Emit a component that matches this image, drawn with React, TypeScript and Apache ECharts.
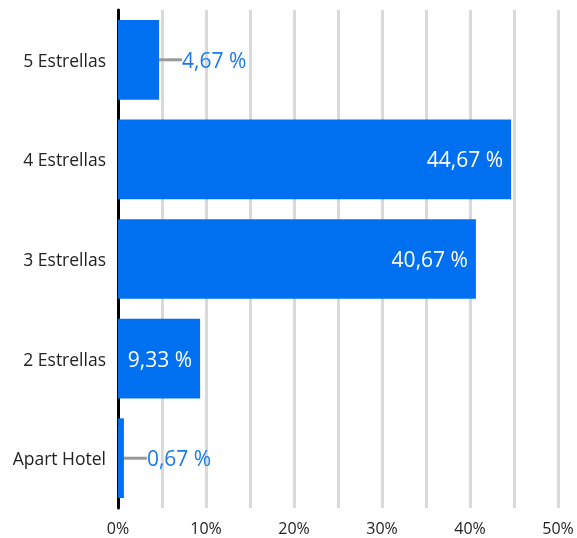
import React, { useEffect, useRef } from "react";
import * as echarts from "echarts";

const categories = ["Apart Hotel", "2 Estrellas", "3 Estrellas", "4 Estrellas", "5 Estrellas"];
const values = [0.67, 9.33, 40.67, 44.67, 4.67];
const outsideThreshold = 6;

const fmt = (v: number) => v.toFixed(2).replace(".", ",") + " %";

export default function App() {
  const ref = useRef<HTMLDivElement>(null);
  useEffect(() => {
    if (!ref.current) return;
    const chart = echarts.init(ref.current, undefined, { renderer: "svg" });
    const font = "'Open Sans', 'Noto Sans', sans-serif";
    chart.setOption({
      animation: false,
      grid: { left: 118, right: 19, top: 10, bottom: 30, containLabel: false },
      xAxis: {
        type: "value",
        min: 0,
        max: 50,
        interval: 5,
        axisLine: { show: false },
        axisTick: { show: false },
        axisLabel: {
          fontFamily: font,
          fontSize: 16,
          color: "#222",
          margin: 12,
          formatter: (v: number) => (v % 10 === 0 ? v + "%" : ""),
        },
        splitLine: { show: true, lineStyle: { color: "#d9d9d9", width: 3 } },
      },
      yAxis: {
        type: "category",
        data: categories,
        axisLine: { show: true, lineStyle: { color: "#000", width: 3 } },
        axisTick: { show: false },
        axisLabel: { fontFamily: font, fontSize: 17.5, color: "#222", margin: 12 },
        splitLine: { show: false },
      },
      series: [
        {
          type: "bar",
          barWidth: "80%",
          itemStyle: { color: "#0070f0" },
          data: values.map((v) => ({
            value: v,
            label:
              v < outsideThreshold
                ? { show: true, position: "right", distance: 0, color: "#1a7ae8" }
                : { show: true, position: "insideRight", distance: 8, color: "#fff" },
          })),
          label: {
            show: true,
            fontFamily: font,
            fontSize: 21,
            formatter: (p: any) => fmt(p.value),
          },
          labelLayout: (p: any) =>
            values[p.dataIndex] < outsideThreshold ? { dx: 23 } : {},
          labelLine: { show: true, lineStyle: { color: "#999", width: 3 } },
        },
      ],
    });
    return () => chart.dispose();
  }, []);
  return (
    <div
      ref={ref}
      style={{ position: "fixed", left: 0, top: 0, width: 577, height: 538 }}
    />
  );
}
